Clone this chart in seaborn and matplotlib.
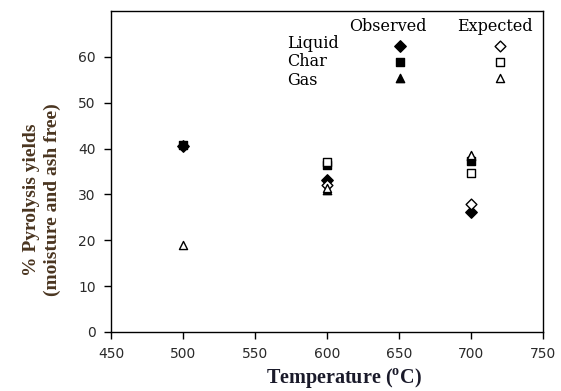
import numpy as np
import pandas as pd
import seaborn as sns
import matplotlib.pyplot as plt

# ---------------------------------------
# Data
# ---------------------------------------
obs_liquid_t = [500, 600, 700]
obs_liquid = [40.5, 33.2, 26.2]
obs_char_t = [500, 600, 700]
obs_char = [40.8, 36.5, 37.3]
obs_gas_t = [600, 700]
obs_gas = [31.0, 38.3]

exp_liquid_t = [600, 700]
exp_liquid = [32.0, 28.0]
exp_char_t = [600, 700]
exp_char = [37.0, 34.6]
exp_gas_t = [500, 600, 700]
exp_gas = [19.0, 31.3, 38.6]

x_ticks = [450, 500, 550, 600, 650, 700, 750]
y_ticks = [0, 10, 20, 30, 40, 50, 60]

# ---------------------------------------
# Theme
# ---------------------------------------
sns.set_theme(style="ticks")
plt.rcParams["font.family"] = ["DejaVu Sans"]
plt.rcParams["mathtext.fontset"] = "custom"
plt.rcParams["mathtext.bf"] = "Liberation Serif:bold"
plt.rcParams["mathtext.rm"] = "Liberation Serif"

fig = plt.figure(figsize=(5.61, 3.91), dpi=100)
ax = fig.add_axes([0.198, 0.151, 0.770, 0.821])

series = [
    (obs_liquid_t, obs_liquid, "D", "black", 34),
    (obs_char_t, obs_char, "s", "black", 30),
    (obs_gas_t, obs_gas, "^", "black", 36),
    (exp_liquid_t, exp_liquid, "D", "white", 30),
    (exp_char_t, exp_char, "s", "white", 30),
    (exp_gas_t, exp_gas, "^", "white", 34),
]
for xs, ys, mk, fc, sz in series:
    sns.scatterplot(x=xs, y=ys, marker=mk, color=fc, edgecolor="black",
                    linewidth=1.0, s=sz, ax=ax, legend=False, zorder=3)

# ---------------------------------------
# Axes styling
# ---------------------------------------
ax.set_xlim(450, 750)
ax.set_ylim(0, 70)
ax.set_xticks(x_ticks)
ax.set_yticks(y_ticks)
ax.tick_params(axis="both", direction="out", length=5, width=1,
               color="black", labelsize=10, labelcolor="#2a2a2a", pad=6)
for sp in ax.spines.values():
    sp.set_visible(True)
    sp.set_color("black")
    sp.set_linewidth(1.0)

ax.set_xlabel(r"Temperature ($^{\mathbf{o}}$C)", family="Liberation Serif",
              fontweight="bold", fontsize=14.5, color="#1a1a2a")
ax.xaxis.set_label_coords(0.539, -0.106)
ax.set_ylabel("% Pyrolysis yields\n(moisture and ash free)", family="Liberation Serif",
              fontweight="bold", fontsize=14, color="#4a3520", linespacing=1.3)
ax.yaxis.set_label_coords(-0.116, 0.411)

# ---------------------------------------
# Legend: markers from the scatter collections, texts laid out as a table
# ---------------------------------------
handles = ax.collections[:6]
ax.legend(handles, [""] * 6, ncol=2, loc="center", bbox_to_anchor=(0.785, 0.842),
          frameon=False, fontsize=10, handlelength=1.0, handletextpad=0.0,
          columnspacing=6.2, labelspacing=0.15, scatterpoints=1,
          borderpad=0, borderaxespad=0)

leg_font = dict(family="DejaVu Serif", fontsize=11.5, color="black",
                transform=ax.transAxes, va="center")
ax.text(0.641, 0.950, "Observed", ha="center", **leg_font)
ax.text(0.889, 0.950, "Expected", ha="center", **leg_font)
for lab, yy in zip(["Liquid", "Char", "Gas"], [0.900, 0.844, 0.782]):
    ax.text(0.407, yy, lab, ha="left", **leg_font)

fig.savefig("out.png", dpi=100)
